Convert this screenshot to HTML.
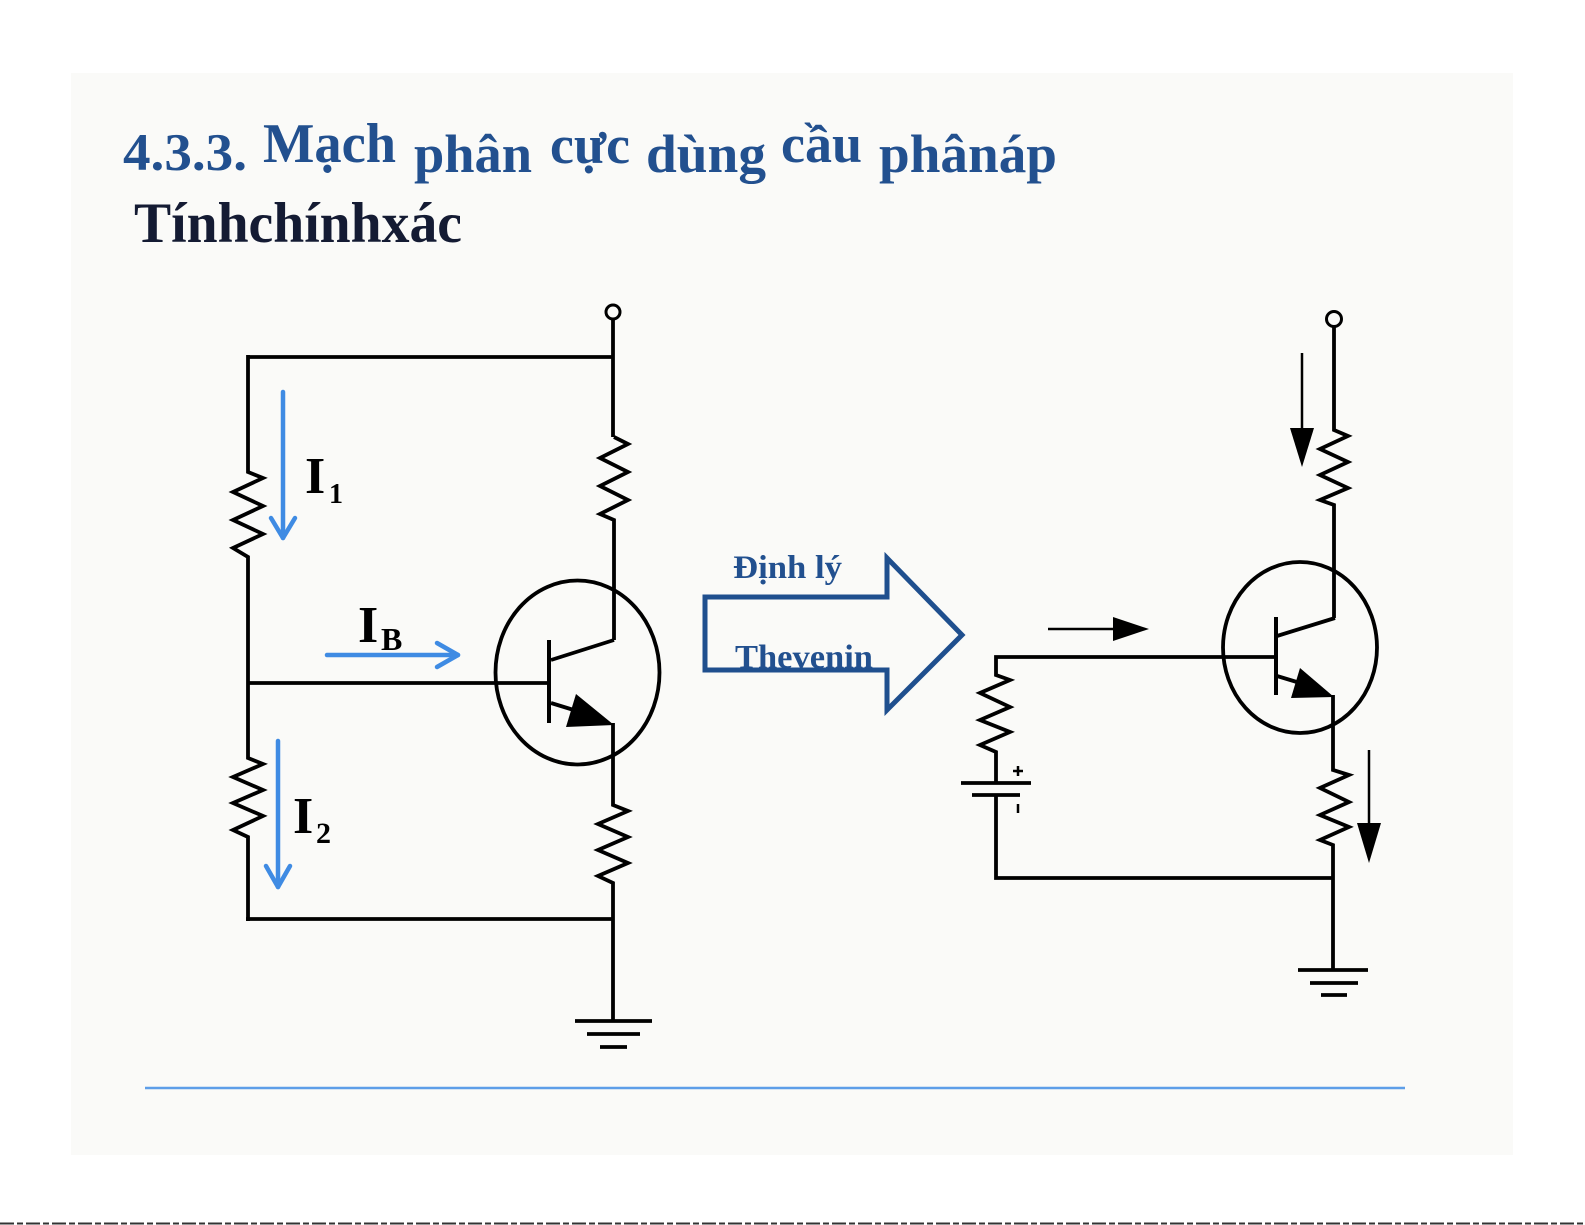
<!DOCTYPE html>
<html>
<head>
<meta charset="utf-8">
<style>
html,body{margin:0;padding:0;background:#ffffff;}
svg{display:block;}
.t{font-family:"Liberation Serif","DejaVu Serif",serif;font-weight:bold;}
</style>
</head>
<body>
<svg width="1585" height="1225" viewBox="0 0 1585 1225" xmlns="http://www.w3.org/2000/svg">
  <rect x="0" y="0" width="1585" height="1225" fill="#ffffff"/>
  <rect x="71" y="73" width="1442" height="1082" fill="#fafaf8"/>
  <line x1="0" y1="1223.5" x2="1585" y2="1223.5" stroke="#333" stroke-width="2" stroke-dasharray="14,3,6,3"/>

  <!-- Title -->
  <g class="t" fill="#22508f">
    <text x="123" y="170" font-size="53" textLength="124" lengthAdjust="spacingAndGlyphs">4.3.3.</text>
    <text x="263" y="162" font-size="56" textLength="133" lengthAdjust="spacingAndGlyphs">Mạch</text>
    <text x="414" y="172" font-size="54" textLength="118" lengthAdjust="spacingAndGlyphs">phân</text>
    <text x="550" y="163" font-size="54" textLength="80" lengthAdjust="spacingAndGlyphs">cực</text>
    <text x="646" y="172" font-size="54" textLength="120" lengthAdjust="spacingAndGlyphs">dùng</text>
    <text x="781" y="162" font-size="54" textLength="81" lengthAdjust="spacingAndGlyphs">cầu</text>
    <text x="879" y="172" font-size="54" textLength="178" lengthAdjust="spacingAndGlyphs">phânáp</text>
  </g>
  <text class="t" x="134" y="242" font-size="57" fill="#141b33" textLength="328" lengthAdjust="spacingAndGlyphs">Tínhchínhxác</text>

  <!-- LEFT CIRCUIT -->
  <g fill="none" stroke="#000" stroke-width="3.8" stroke-linejoin="miter" stroke-linecap="butt">
    <circle cx="613" cy="312" r="7" stroke-width="3"/>
    <line x1="613" y1="319" x2="613" y2="437"/>
    <polyline points="248,357 613,357"/>
    <!-- top right resistor -->
    <polyline points="614,437 628,444 600,458 628,472 600,486 628,500 600,514 614,520 614,640"/>
    <!-- left column -->
    <polyline points="248,355 248,472 263,478 233,492 263,506 233,520 263,534 233,548 248,557 248,758 263,764 233,777 263,790 233,803 263,816 233,830 248,837 248,921"/>
    <line x1="246" y1="919" x2="613" y2="919"/>
    <!-- base -->
    <line x1="248" y1="683" x2="549" y2="683"/>
    <ellipse cx="577.5" cy="672.5" rx="82" ry="92"/>
    <line x1="549" y1="640" x2="549" y2="723" stroke-width="4"/>
    <line x1="551" y1="660" x2="614" y2="640"/>
    <line x1="551" y1="703" x2="590" y2="715"/>
    <!-- emitter + lower resistor -->
    <polyline points="613,723 613,805 628,811 598,824 628,837 598,850 628,863 598,876 613,883 613,1021"/>
    <line x1="575" y1="1021" x2="652" y2="1021"/>
    <line x1="587" y1="1034" x2="640" y2="1034"/>
    <line x1="600" y1="1047" x2="627" y2="1047"/>
  </g>
  <polygon points="576,694 566,727 614,725" fill="#000"/>

  <!-- blue current arrows -->
  <g fill="none" stroke="#3f8be3" stroke-width="4.5" stroke-linecap="round" stroke-linejoin="round">
    <line x1="283" y1="392" x2="283" y2="538"/>
    <polyline points="271,518 283,538 295,518"/>
    <line x1="278" y1="741" x2="278" y2="887"/>
    <polyline points="266,866 278,887 290,866"/>
    <line x1="327" y1="655" x2="458" y2="655"/>
    <polyline points="437,643 458,655 437,667"/>
  </g>

  <!-- current labels -->
  <g class="t" fill="#000">
    <text x="305" y="493" font-size="52">I</text>
    <text x="329" y="503" font-size="28">1</text>
    <text x="358" y="642" font-size="52">I</text>
    <text x="381" y="650" font-size="32">B</text>
    <text x="293" y="833" font-size="52">I</text>
    <text x="316" y="843" font-size="30">2</text>
  </g>

  <!-- Big arrow -->
  <polygon points="705,597 887,597 887,558 962,635 887,710 887,670 705,670" fill="none" stroke="#1f4f8e" stroke-width="5" stroke-linejoin="miter"/>
  <g class="t" fill="#22508f">
    <text x="733" y="578" font-size="33" textLength="109" lengthAdjust="spacingAndGlyphs">Định lý</text>
    <text x="735" y="668" font-size="34" textLength="138" lengthAdjust="spacingAndGlyphs">Thevenin</text>
  </g>

  <!-- RIGHT CIRCUIT -->
  <g fill="none" stroke="#000" stroke-width="3.8" stroke-linejoin="miter">
    <circle cx="1334" cy="319" r="7.5" stroke-width="3"/>
    <polyline points="1334,327 1334,430 1348,436 1320,449 1348,462 1320,475 1348,488 1320,500 1334,505 1334,618"/>
    <ellipse cx="1300" cy="647.5" rx="77" ry="85.5"/>
    <line x1="1276" y1="617" x2="1276" y2="695" stroke-width="4"/>
    <line x1="1277" y1="636" x2="1335" y2="618"/>
    <line x1="1277" y1="676" x2="1310" y2="686"/>
    <polyline points="1333,695 1333,770 1349,775 1320,788 1349,802 1320,815 1349,827 1320,840 1333,845 1333,969"/>
    <line x1="1298" y1="970" x2="1368" y2="970"/>
    <line x1="1310" y1="983" x2="1358" y2="983"/>
    <line x1="1321" y1="995" x2="1347" y2="995"/>
    <!-- base / thevenin branch -->
    <polyline points="1276,657 996,657 996,675 1010,680 980,693 1010,707 980,720 1010,732 980,745 996,752 996,783"/>
    <line x1="961" y1="783" x2="1031" y2="783"/>
    <line x1="972" y1="795" x2="1020" y2="795"/>
    <polyline points="996,795 996,878 1333,878"/>
    <!-- plus / minus marks -->
    <line x1="1013" y1="771" x2="1023" y2="771" stroke-width="2.5"/>
    <line x1="1018" y1="766" x2="1018" y2="776" stroke-width="2.5"/>
    <line x1="1018" y1="804" x2="1018" y2="813" stroke-width="2.5"/>
  </g>
  <polygon points="1300,668 1291,698 1334,697" fill="#000"/>

  <!-- black current arrows -->
  <g stroke="#000" stroke-width="2.5" fill="none">
    <line x1="1302" y1="353" x2="1302" y2="440"/>
    <line x1="1369" y1="750" x2="1369" y2="830"/>
    <line x1="1048" y1="629" x2="1120" y2="629"/>
  </g>
  <g fill="#000">
    <polygon points="1290,428 1314,428 1302,467"/>
    <polygon points="1357,823 1381,823 1369,863"/>
    <polygon points="1113,617 1113,641 1149,629"/>
  </g>

  <!-- blue separator -->
  <line x1="145" y1="1088" x2="1405" y2="1088" stroke="#5d9ee8" stroke-width="2.5"/>
</svg>
</body>
</html>
